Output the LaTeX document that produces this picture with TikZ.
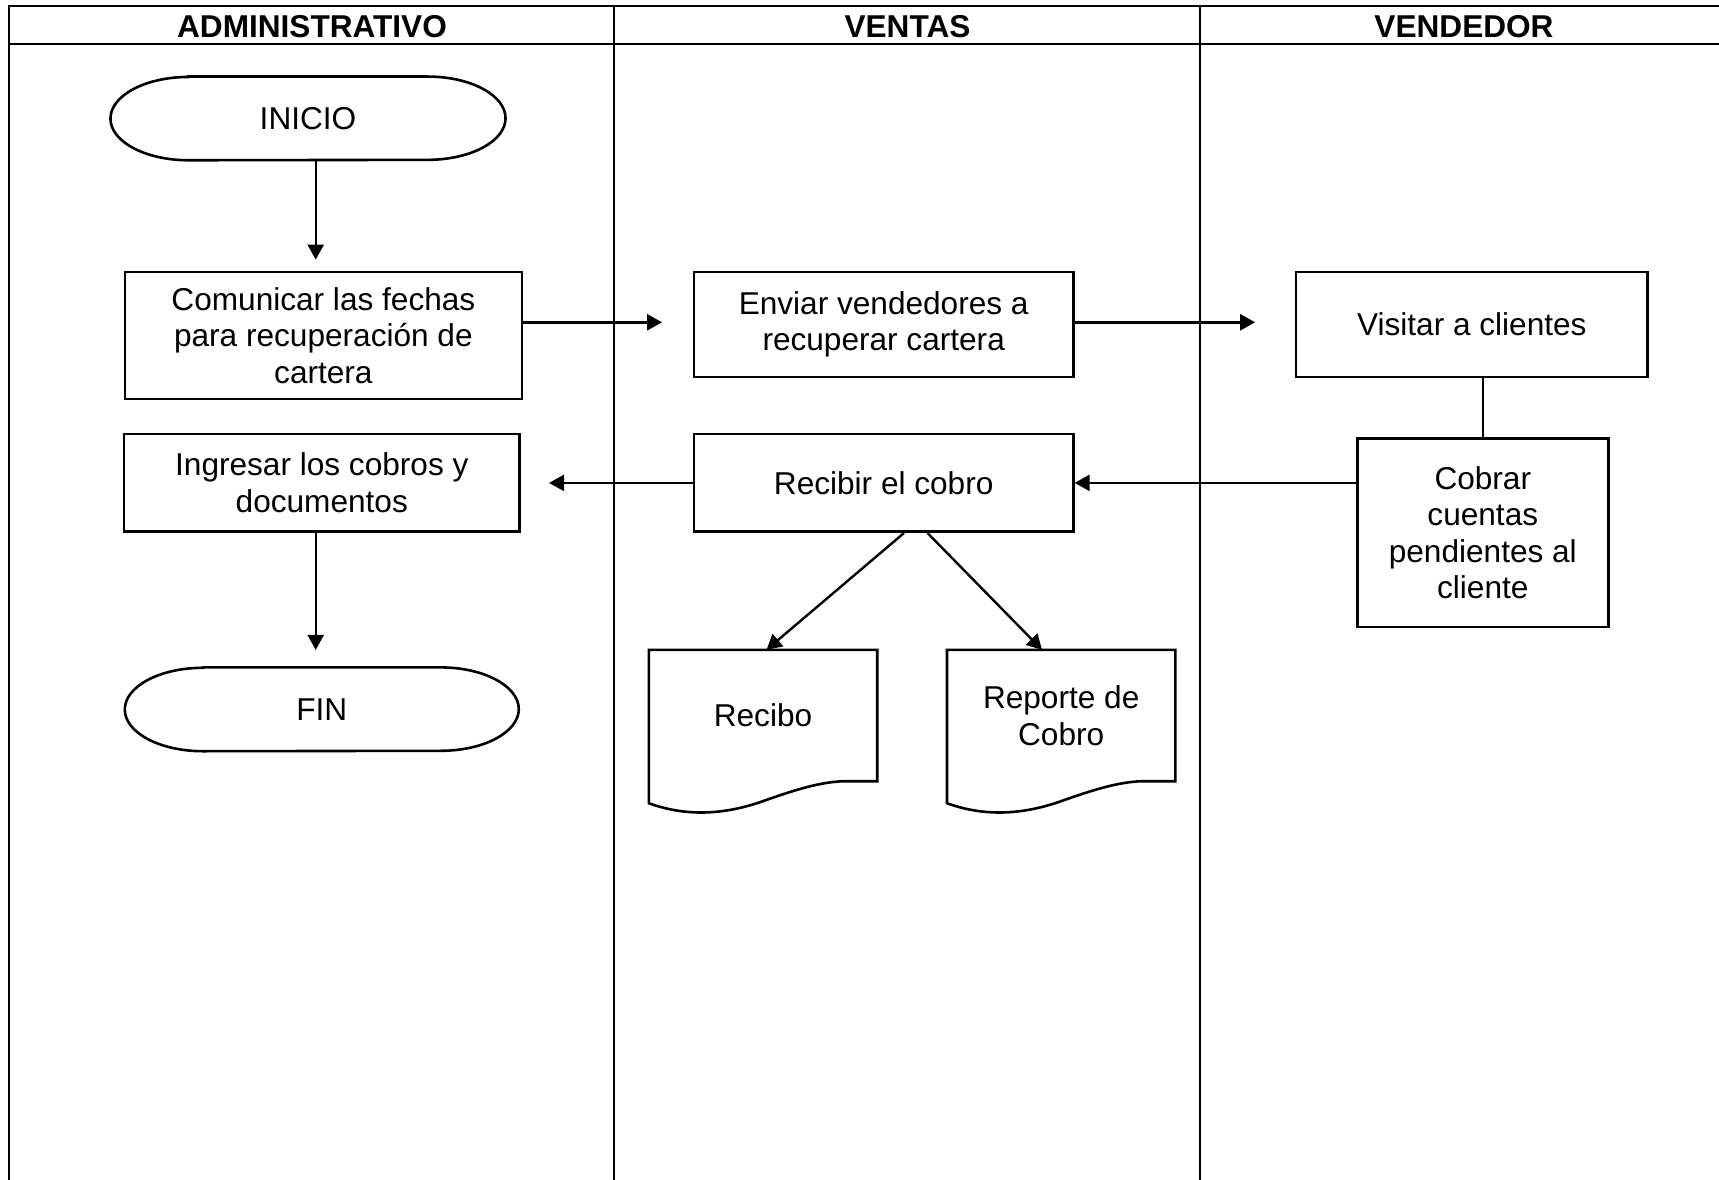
\documentclass[tikz,border=0pt]{standalone}
\usepackage{fontspec}
\setmainfont{Liberation Sans}
\usetikzlibrary{arrows.meta,calc}
\newcommand\flowfont{\fontsize{31.6}{36.6}\selectfont}
\begin{document}
\begin{tikzpicture}[x=1pt,y=1pt,
  lane/.style={line width=2pt},
  procbox/.style={draw, line width=2.6pt, inner sep=0pt, align=center, font=\flowfont},
  bare/.style={inner sep=0pt, align=center, font=\flowfont},
  outline/.style={line width=2.6pt, line join=miter},
  flow/.style={line width=2.4pt, -{Triangle[length=15pt,width=16pt]}},
  link/.style={line width=1.5pt},
  lanetitle/.style={inner sep=0pt, font=\flowfont\bfseries}]
\useasboundingbox (0,0) rectangle (1719,-1180);

% swimlane frame, open on the right and at the bottom
\draw[lane] (9,-1180) -- (9,-6.5) -- (1719,-6.5);
\draw[lane] (9,-44) -- (1719,-44);
\draw[lane] (614,-6.5) -- (614,-1180);
\draw[lane] (1200,-6.5) -- (1200,-1180);

\node[lanetitle] (t1) at (312,-26.5) {ADMINISTRATIVO};
\node[lanetitle] (t2) at (907.5,-26.5) {VENTAS};
\node[lanetitle] (t3) at (1464,-26.5) {VENDEDOR};

% terminators
\node[bare, minimum width=394.7pt, minimum height=83.3pt] (ini) at (308,-118.4) {INICIO};
\draw[outline] ([xshift=78pt]ini.north west) -- ([xshift=-78pt]ini.north east)
  arc[start angle=90,end angle=-90,x radius=78pt,y radius=41.65pt]
  -- ([xshift=78pt]ini.south west)
  arc[start angle=270,end angle=90,x radius=78pt,y radius=41.65pt] -- cycle;

\node[bare, minimum width=393.6pt, minimum height=83.4pt] (fin) at (321.8,-709.3) {FIN};
\draw[outline] ([xshift=78pt]fin.north west) -- ([xshift=-78pt]fin.north east)
  arc[start angle=90,end angle=-90,x radius=78pt,y radius=41.7pt]
  -- ([xshift=78pt]fin.south west)
  arc[start angle=270,end angle=90,x radius=78pt,y radius=41.7pt] -- cycle;

% process steps
\node[procbox, minimum width=396.8pt, minimum height=127.1pt] (com) at (323.4,-335.5)
  {Comunicar las fechas\\para recuperación de\\cartera};
\node[procbox, minimum width=379.3pt, minimum height=105.2pt] (env) at (883.7,-324.5)
  {Enviar vendedores a\\recuperar cartera};
\node[procbox, minimum width=351.9pt, minimum height=105.2pt] (vis) at (1471.8,-324.5)
  {Visitar a clientes};
\node[procbox, minimum width=395.8pt, minimum height=97.6pt] (ing) at (321.8,-482.9)
  {Ingresar los cobros y\\documentos};
\node[procbox, minimum width=379.3pt, minimum height=97.6pt] (rcb) at (883.7,-482.9)
  {Recibir el cobro};
\node[procbox, minimum width=251.1pt, minimum height=188.6pt] (cob) at (1482.8,-532.8)
  {Cobrar\\cuentas\\pendientes al\\cliente};

% documents
\node[bare, minimum width=228pt, minimum height=131pt] (dre) at (763,-715.5) {Recibo};
\node[bare, minimum width=228pt, minimum height=131pt] (drp) at (1061.2,-715.5) {Reporte de\\Cobro};
\foreach \d in {dre,drp}{
  \draw[outline] (\d.north west) -- (\d.north east) -- (\d.south east)
    -- ($(\d.south east)+(-34,0)$)
    .. controls ($(\d.south west)+(171,-1)$) and ($(\d.south west)+(148,-8)$) .. ($(\d.south west)+(114,-20)$)
    .. controls ($(\d.south west)+(80,-32)$) and ($(\d.south west)+(41,-37)$) .. ($(\d.south west)+(0,-22)$)
    -- cycle;
}

% connectors
\draw[flow] ([xshift=7.7pt]ini.south) -- ([xshift=-7.7pt,yshift=11pt]com.north);
\draw[flow] ([yshift=13.2pt]com.east) -- ([xshift=-30.7pt,yshift=2.2pt]env.west);
\draw[flow] ([yshift=2.2pt]env.east) -- ([xshift=-39.4pt,yshift=2.2pt]vis.west);
\draw[link] (cob.north |- vis.south) -- (cob.north);
\draw[flow] (cob.west |- rcb.east) -- (rcb.east);
\draw[flow] (rcb.west) -- ([xshift=28pt]ing.east);
\draw[flow] ([xshift=-6.1pt]ing.south) -- ([xshift=-6.1pt,yshift=17.5pt]fin.north);
\draw[flow] ([xshift=20.3pt]rcb.south) -- ([xshift=3.5pt]dre.north);
\draw[flow] ([xshift=43.8pt]rcb.south) -- ([xshift=-19.2pt]drp.north);
\end{tikzpicture}
\end{document}
